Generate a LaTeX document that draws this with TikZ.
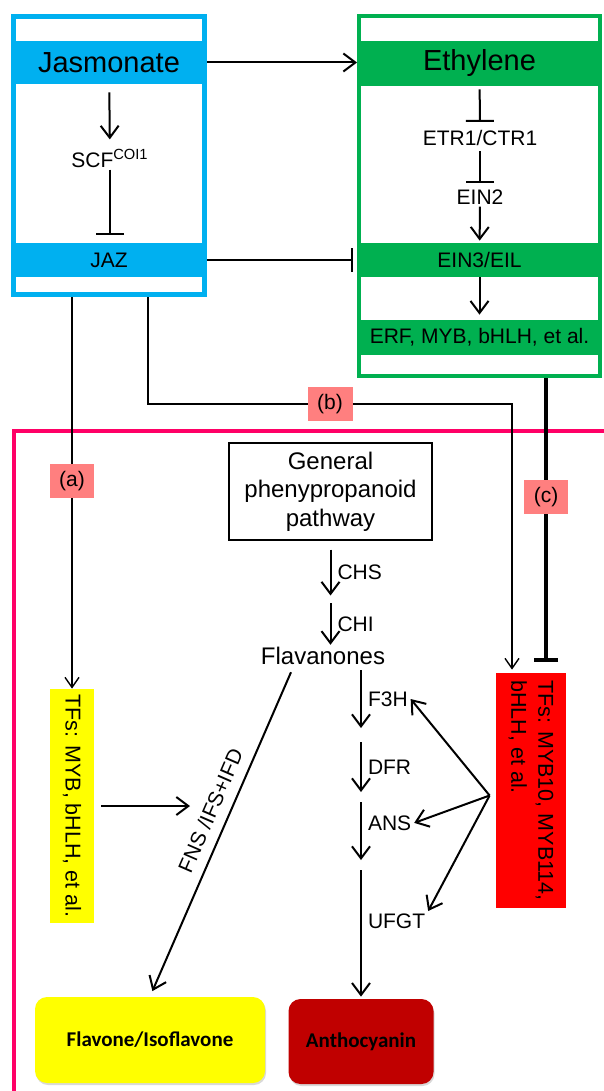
\documentclass[tikz,border=0pt]{standalone}
\usepackage{fontspec}
\setmainfont{Liberation Sans}
\newfontfamily\boxfont{Carlito}
\usetikzlibrary{
  calc,
  arrows.meta,
  shadows,
}

\definecolor{jasblue}{HTML}{00B0F0}
\definecolor{ethgreen}{HTML}{00B050}
\definecolor{pinkc}{HTML}{FF0066}
\definecolor{tagred}{HTML}{FF7F7F}
\definecolor{yellowbox}{HTML}{FFFF00}
\definecolor{redbox}{HTML}{FF0000}
\definecolor{anthred}{HTML}{C00000}

\begin{document}
\begin{tikzpicture}[
    x=0.5pt, y=-0.5pt,
    arr/.style={line width=1pt, -{Straight Barb[length=6pt,width=9pt]}},
    blk/.style={line width=1pt, -{Bar[width=14pt]}},
    thin/.style={line width=0.7pt, -{Straight Barb[length=5pt,width=7pt]}},
    lab/.style={font=\fontsize{10.5}{12.6}\selectfont, inner sep=1pt},
    big/.style={font=\fontsize{14.5}{17}\selectfont},
    band/.style={lab, minimum height=17pt, inner sep=0pt},
    frame/.style={draw, inner sep=0pt},
    tag/.style={lab, fill=tagred, minimum width=22pt, minimum height=17pt},
    tf/.style={lab, rotate=-90, inner sep=0pt, font=\fontsize{10.75}{13.5}\selectfont},
    prod/.style={rounded corners=6pt, font=\boxfont\bfseries\fontsize{10.5}{12}\selectfont,
      drop shadow={shadow xshift=0.5pt, shadow yshift=-1pt, opacity=.3}},
  ]
  \useasboundingbox (0,0) rectangle (604,1091);

  % lower region
  \draw[pinkc, line width=2pt] (610,431) -| (14,1100);

  % jasmonate frame
  \node[frame, draw=jasblue, line width=2.5pt, minimum width=95.5pt, minimum height=139pt] (jframe) at (109,155.5) {};
  \node[band, big, fill=jasblue, minimum width=93pt, minimum height=21.5pt] (jas) at (109,62.5) {Jasmonate};
  \node[lab] (scf) at (110,158) {SCF\textsuperscript{COI1}};
  \node[band, fill=jasblue, minimum width=93pt] (jaz) at (109,260) {JAZ};

  % ethylene frame
  \node[frame, draw=ethgreen, line width=2pt, minimum width=120.5pt, minimum height=180pt] (gframe) at (479.5,196) {};
  \node[band, big, fill=ethgreen, minimum width=118.5pt, minimum height=22.5pt] (eth) at (479.5,63.5) {Ethylene};
  \node[lab] (etr) at (480,138) {ETR1/CTR1};
  \node[lab] (ein2) at (480,197) {EIN2};
  \node[band, fill=ethgreen, minimum width=118.5pt] (ein3) at (479.5,260) {EIN3/EIL};
  \node[band, fill=ethgreen, minimum width=118.5pt, minimum height=17.5pt] (erf) at (479.5,337.5) {ERF, MYB, bHLH, et al.};

  \draw[arr, shorten <=4pt, shorten >=3.5pt] (jas) -- (scf);
  \draw[blk, shorten >=4pt] (scf) -- (scf |- jaz.north);
  \draw[blk, shorten <=1.5pt, shorten >=3pt] (eth) -- (etr);
  \draw[blk, shorten <=1.5pt, shorten >=2.25pt] (etr) -- (ein2);
  \draw[arr, shorten >=1pt] (ein2) -- (ein3);
  \draw[arr, shorten >=2.5pt] (ein3) -- (erf);

  \draw[arr] (jframe.east |- jas) -- (gframe.west |- jas);
  \draw[blk, -{Bar[width=12pt]}, shorten >=2pt] (jframe.east |- jaz) -- (gframe.west |- jaz);

  % pathway
  \node[draw, line width=1pt, minimum width=101.5pt, minimum height=48.5pt, align=center,
    font=\fontsize{12}{14.25}\selectfont] (gen) at (330.5,491.5) {General\\phenypropanoid\\pathway};
  \node[inner sep=1pt, font=\fontsize{12}{14}\selectfont] (flav) at (323,656) {Flavanones};

  \node[tf, fill=yellowbox, minimum width=117pt, minimum height=22pt] (yel) at (72,806) {TFs: MYB, bHLH, et al.};
  \node[tf, fill=redbox, minimum width=117.5pt, minimum height=35pt, align=left] (red) at (531,790.5) {TFs: MYB10, MYB114,\\bHLH, et al.};

  \node[prod, fill=yellowbox, minimum width=115pt, minimum height=43pt] (flavo) at (150,1040) {Flavone/Isoflavone};
  \node[prod, fill=anthred, minimum width=72.5pt, minimum height=42.5pt] (anth) at (361,1041.5) {Anthocyanin};

  \draw[arr] ([yshift=-4.25pt]gen.south) -- ++(0,46) node[lab, midway, right=2pt] {CHS};
  \draw[arr] ([yshift=-31pt]gen.south) -- node[lab, right=2pt] {CHI} (gen.south |- flav.north);

  \foreach \ya/\yb/\p/\enz in {670/728/.5/F3H, 742/792/.5/DFR, 802/860/.36/ANS}
    \draw[arr] (361,\ya) -- (361,\yb) node[lab, pos=\p, right=2pt] (\enz) {\enz};
  \draw[arr, shorten >=1pt] (361,870) -- node[lab, pos=.4, right=2pt] (UFGT) {UFGT} (anth.north);

  \draw[arr, shorten >=3pt] ($(flav.south)+(-16pt,-2.5pt)$) -- node[lab, sloped, above=4pt, pos=.45] {FNS /IFS+IFD} (flavo.north);

  \coordinate (fnsin) at (190,806);
  \draw[arr] ($(yel.north)+(3.5pt,0)$) -- (fnsin);

  \coordinate (br) at ($(red.south)+(-3pt,-2.5pt)$);
  \draw[arr] (br) -- (F3H.east);
  \draw[arr] (br) -- (ANS.east);
  \draw[arr] (br) -- (UFGT.north east);

  % links between frames and region
  \draw[thin] (jframe.south -| yel) -- node[tag, pos=.47] {(a)} (yel.west);

  \coordinate (bturn) at (148,404);
  \coordinate (bdrop) at (512,404);
  \draw[thin, shorten >=1.5pt] (jframe.south -| bturn) -- (bturn) -- node[tag, minimum width=22.5pt] {(b)} (bdrop) -- (bdrop |- red.west);

  \coordinate (cdrop) at (546,662);
  \draw[line width=2pt, -{Bar[width=12pt]}] (gframe.south -| cdrop) -- node[tag, pos=.42, line width=0pt] {(c)} (cdrop);

\end{tikzpicture}
\end{document}
